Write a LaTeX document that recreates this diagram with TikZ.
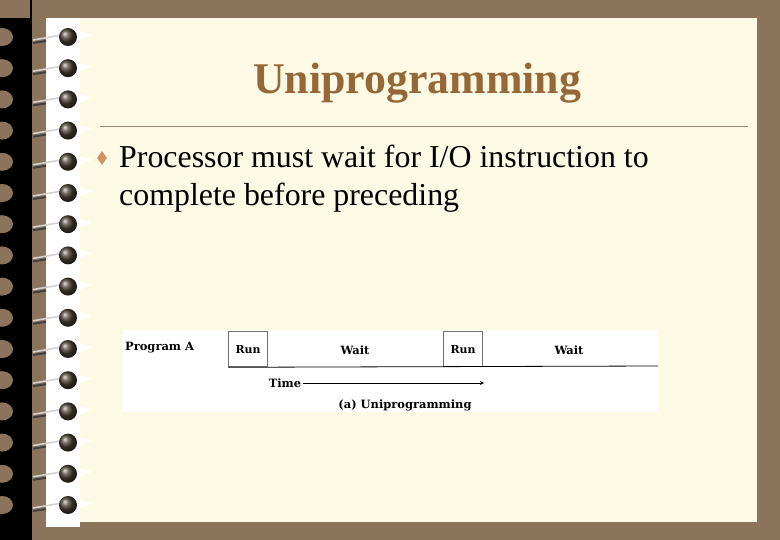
\documentclass[tikz,border=0pt]{standalone}
\usepackage{fontspec}
\setmainfont{Liberation Serif}
\newfontfamily\figfont{DejaVu Serif}
\usetikzlibrary{shapes.geometric,positioning}
\definecolor{framebrown}{RGB}{140,116,92}
\definecolor{slidecream}{RGB}{252,250,228}
\definecolor{titlebrown}{RGB}{150,104,56}
\definecolor{rulegrey}{RGB}{150,132,112}
\definecolor{bullettan}{RGB}{208,146,98}
\definecolor{ringdark}{RGB}{70,62,48}

\begin{document}
\begin{tikzpicture}[x=1bp,y=-1bp,>=stealth]
        \tikzstyle{runbox}=[draw=black!55, line width=1.3bp, minimum width=39bp, minimum height=35bp, inner sep=0pt, anchor=north west, font=\figfont\bfseries\fontsize{11}{13}\selectfont]
        \tikzstyle{figtext}=[inner sep=2bp, font=\figfont\bfseries\fontsize{11.5}{13}\selectfont]
        \useasboundingbox (0,0) rectangle (780,540);

        % Frame and page
        \fill[framebrown] (0,0) rectangle (780,540);
        \fill[black] (0,18) rectangle (32,540);
        \fill[black] (30,0) rectangle (32,18);
        \fill[white] (46,18) rectangle (80,527);
        \fill[slidecream] (80,18) rectangle (757,522);

        % Binding rings
        \foreach \i in {0,...,15} {
            \pgfmathsetmacro{\yy}{37+31.2*\i}
            \fill[framebrown] (2,\yy) ellipse (11 and 9);
            \fill[white!92!slidecream] (78,\yy-6) -- (92,\yy-2) -- (78,\yy+4) -- cycle;
            \draw[black!75, line width=2bp] (33,\yy+6) -- (46,\yy+4);
            \draw[gray!35, line width=1.6bp] (33,\yy+3) -- (62,\yy-2);
            \shade[ball color=ringdark] (68,\yy) circle (9);
        }

        % Title and rule
        \node[anchor=base, text=titlebrown, font=\bfseries\fontsize{44}{50}\selectfont] (title) at (417,94) {Uniprogramming};
        \draw[rulegrey, line width=0.8bp] (100,126) -- (748,126);

        % Bullet text
        \node[diamond, fill=bullettan, inner sep=0pt, minimum width=10bp, minimum height=14bp] (bullet) at (102,158) {};
        \node[anchor=base west, inner sep=0pt, font=\fontsize{32}{38}\selectfont] (line1) at (119,168) {Processor must wait for I/O instruction to};
        \node[anchor=base west, inner sep=0pt, font=\fontsize{32}{38}\selectfont] (line2) at (119,206) {complete before preceding};

        % Timing figure
        \fill[white] (123,330) rectangle (658,412);
        \node[figtext, anchor=west] (prog) at (123,348) {Program A};
        \node[runbox] (run1) at (228,331) {Run};
        \node[runbox] (run2) at (443,331) {Run};
        \coordinate (baseend) at (658,366);
        \draw[line width=0.8bp] (run1.south west) -- (baseend);
        \node[figtext] (wait1) at (355,350) {Wait};
        \node[figtext] (wait2) at (569,350) {Wait};

        % Time axis
        \node[figtext] (time) at (285,383) {Time};
        \coordinate (timeend) at (484,383);
        \draw[->, line width=0.8bp] (time) -- (timeend);
        \node[figtext] (caption) at (405,405) {(a) Uniprogramming};
\end{tikzpicture}
\end{document}
